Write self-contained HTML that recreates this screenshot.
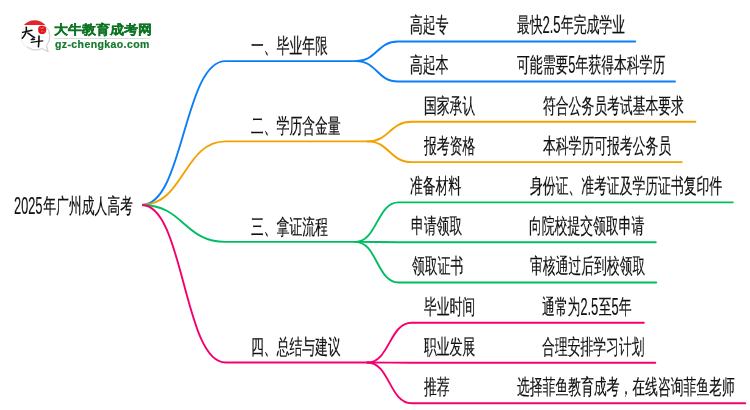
<!DOCTYPE html>
<html><head><meta charset="utf-8"><style>
html,body{margin:0;padding:0;background:#fff;width:750px;height:410px;overflow:hidden}
body{position:relative;font-family:"Liberation Sans",sans-serif}
.t{position:absolute;font-size:21px;line-height:1;white-space:nowrap;color:#111;-webkit-text-stroke:0.2px #111;transform:scaleX(0.61);transform-origin:0 0;will-change:transform}
svg.main{position:absolute;left:0;top:0}
.dw{display:inline-block;line-height:0}
.d{display:inline-block;font-size:24.3px;transform:scaleX(0.864);transform-origin:0 0;position:relative;top:0.7px}
svg.main path{fill:none;stroke-width:1.9;stroke-linecap:round}
</style></head><body>
<svg class="main" width="750" height="410" viewBox="0 0 750 410">
<path d="M142 205C183.75 205 183.75 61.1 225.5 61.1L356 61.1" stroke="#0a7ef7" style="stroke-linecap:butt"/>
<path d="M356 61.1C377.0 61.1 377.0 41.5 398 41.5L635.3 41.5" stroke="#0a7ef7"/>
<path d="M356 61.1C377.0 61.1 377.0 81.5 398 81.5L675.0 81.5" stroke="#0a7ef7"/>
<path d="M142 205C183.75 205 183.75 141.4 225.5 141.4L367.5 141.4" stroke="#f2a200" style="stroke-linecap:butt"/>
<path d="M367.5 141.4C389.5 141.4 389.5 121.8 411.5 121.8L695.4 121.8" stroke="#f2a200"/>
<path d="M367.5 141.4C389.5 141.4 389.5 162.1 411.5 162.1L681.8 162.1" stroke="#f2a200"/>
<path d="M142 205C183.75 205 183.75 241.9 225.5 241.9L355.5 241.9" stroke="#00bd62" style="stroke-linecap:butt"/>
<path d="M355.5 241.9C377.0 241.9 377.0 202.4 398.5 202.4L732.8 202.4" stroke="#00bd62"/>
<path d="M355.5 241.9C377.0 241.9 377.0 242.2 398.5 242.2L655.8 242.2" stroke="#00bd62"/>
<path d="M355.5 241.9C377.0 241.9 377.0 282.5 398.5 282.5L656.3 282.5" stroke="#00bd62"/>
<path d="M142 205C183.75 205 183.75 362.5 225.5 362.5L367.5 362.5" stroke="#f5006b" style="stroke-linecap:butt"/>
<path d="M367.5 362.5C389.5 362.5 389.5 322.8 411.5 322.8L643.8 322.8" stroke="#f5006b"/>
<path d="M367.5 362.5C389.5 362.5 389.5 362.8 411.5 362.8L655.3 362.8" stroke="#f5006b"/>
<path d="M367.5 362.5C389.5 362.5 389.5 403.2 411.5 403.2L745.3 403.2" stroke="#f5006b"/>
</svg>
<div class="t" style="left:250.9px;top:34.7px">一、毕业年限</div>
<div class="t" style="left:410.2px;top:14.4px">高起专</div>
<div class="t" style="left:516.6px;top:14.4px">最快<span class="dw" style="width:29.99px"><span class="d">2.5</span></span>年完成学业</div>
<div class="t" style="left:410.2px;top:54.4px">高起本</div>
<div class="t" style="left:516.6px;top:54.4px">可能需要<span class="dw" style="width:12.07px"><span class="d">5</span></span>年获得本科学历</div>
<div class="t" style="left:250.9px;top:115.0px">二、学历含金量</div>
<div class="t" style="left:424.2px;top:94.7px">国家承认</div>
<div class="t" style="left:543.4px;top:94.7px">符合公务员考试基本要求</div>
<div class="t" style="left:424.2px;top:135.0px">报考资格</div>
<div class="t" style="left:543.4px;top:135.0px">本科学历可报考公务员</div>
<div class="t" style="left:250.9px;top:215.5px">三、拿证流程</div>
<div class="t" style="left:410.4px;top:175.3px">准备材料</div>
<div class="t" style="left:530.2px;top:175.3px">身份证、准考证及学历证书复印件</div>
<div class="t" style="left:411.0px;top:215.1px">申请领取</div>
<div class="t" style="left:529.4px;top:215.1px">向院校提交领取申请</div>
<div class="t" style="left:411.9px;top:255.4px">领取证书</div>
<div class="t" style="left:530.2px;top:255.4px">审核通过后到校领取</div>
<div class="t" style="left:250.9px;top:336.1px">四、总结与建议</div>
<div class="t" style="left:423.9px;top:295.7px">毕业时间</div>
<div class="t" style="left:542.2px;top:295.7px">通常为<span class="dw" style="width:29.99px"><span class="d">2.5</span></span>至<span class="dw" style="width:12.07px"><span class="d">5</span></span>年</div>
<div class="t" style="left:423.9px;top:335.7px">职业发展</div>
<div class="t" style="left:542.2px;top:335.7px">合理安排学习计划</div>
<div class="t" style="left:423.9px;top:376.1px">推荐</div>
<div class="t" style="left:517.2px;top:376.1px">选择菲鱼教育成考，在线咨询菲鱼老师</div>
<div class="t" style="left:13.8px;top:194.8px"><span class="dw" style="width:48.30px"><span class="d">2025</span></span>年广州成人高考</div>

<svg class="logo" width="60" height="60" viewBox="0 0 60 60" style="position:absolute;left:0;top:0">
<path d="M23.2 43.8 A14.3 14.3 0 1 1 46.5 45.6 L48.2 51.6 L41.8 48.6 A14.3 14.3 0 0 1 23.2 43.8" fill="none" stroke="#e6e6e6" stroke-width="0.8"/>
<path d="M45.5 26 A14.3 14.3 0 0 1 46.5 45.6 L48.2 51.6 L41.8 48.6 A14.3 14.3 0 0 1 27 46.5" fill="none" stroke="#c4c4c4" stroke-width="0.8"/>
<path d="M23.9 25 A14.7 14.7 0 0 1 45.4 25 Z" fill="#e3262b"/>
<path d="M38.6 27 C39.8 25.4 44.6 25.2 45.9 27.4 C46.8 29.6 46.2 32.8 44.2 33.7 C42.2 34.4 39.4 34 38.6 32.2 C38 30.6 38 28.4 38.6 27 Z" fill="#e0161c"/>
<path d="M40.5 27.6 l1.2 1.4 M43.2 27 l-0.6 2 M41 31.5 l1.5 -0.6 M43.8 31.2 l0.8 1" stroke="#f7c0c0" stroke-width="0.6"/>
<g fill="none" stroke="#111" stroke-linecap="round">
<path d="M22.6 32.4 C25.5 31.6 29 30.8 32 30.3" stroke-width="1.4"/>
<path d="M26.3 27.2 C26.8 31 25 35.5 22.3 38.2" stroke-width="1.6"/>
<path d="M27.8 33 C29.8 34.6 32 36.4 34.6 37.6" stroke-width="1.5"/>
<path d="M34.2 37.6 C33.2 38.2 32.2 38.8 31.4 39.6 C32.6 39.8 33.6 39.6 34.6 39.4" stroke-width="1.2"/>
<path d="M31.2 42.4 C35 41.8 39 41.2 42.8 40.9" stroke-width="1.3"/>
<path d="M39 36 C39.2 39.6 38.8 43.4 38.4 46.8" stroke-width="1.6"/>
</g>
</svg>
<div style="position:absolute;left:54.4px;top:24px;font-size:12.5px;font-weight:bold;line-height:1;color:#0e7424;white-space:nowrap;transform:scaleX(1.075);transform-origin:0 0;will-change:transform;-webkit-text-stroke:0.3px #0e7424">大牛教育成考网</div>
<div style="position:absolute;left:54px;top:38.3px;width:96px;height:1px;background:#d3e0d6"></div>
<div style="position:absolute;left:54.6px;top:39px;font-size:10.5px;font-weight:bold;line-height:1;color:#13782c;white-space:nowrap;letter-spacing:0.4px;will-change:transform;-webkit-text-stroke:0.2px #13782c">gz-chengkao.com</div>
</body></html>
